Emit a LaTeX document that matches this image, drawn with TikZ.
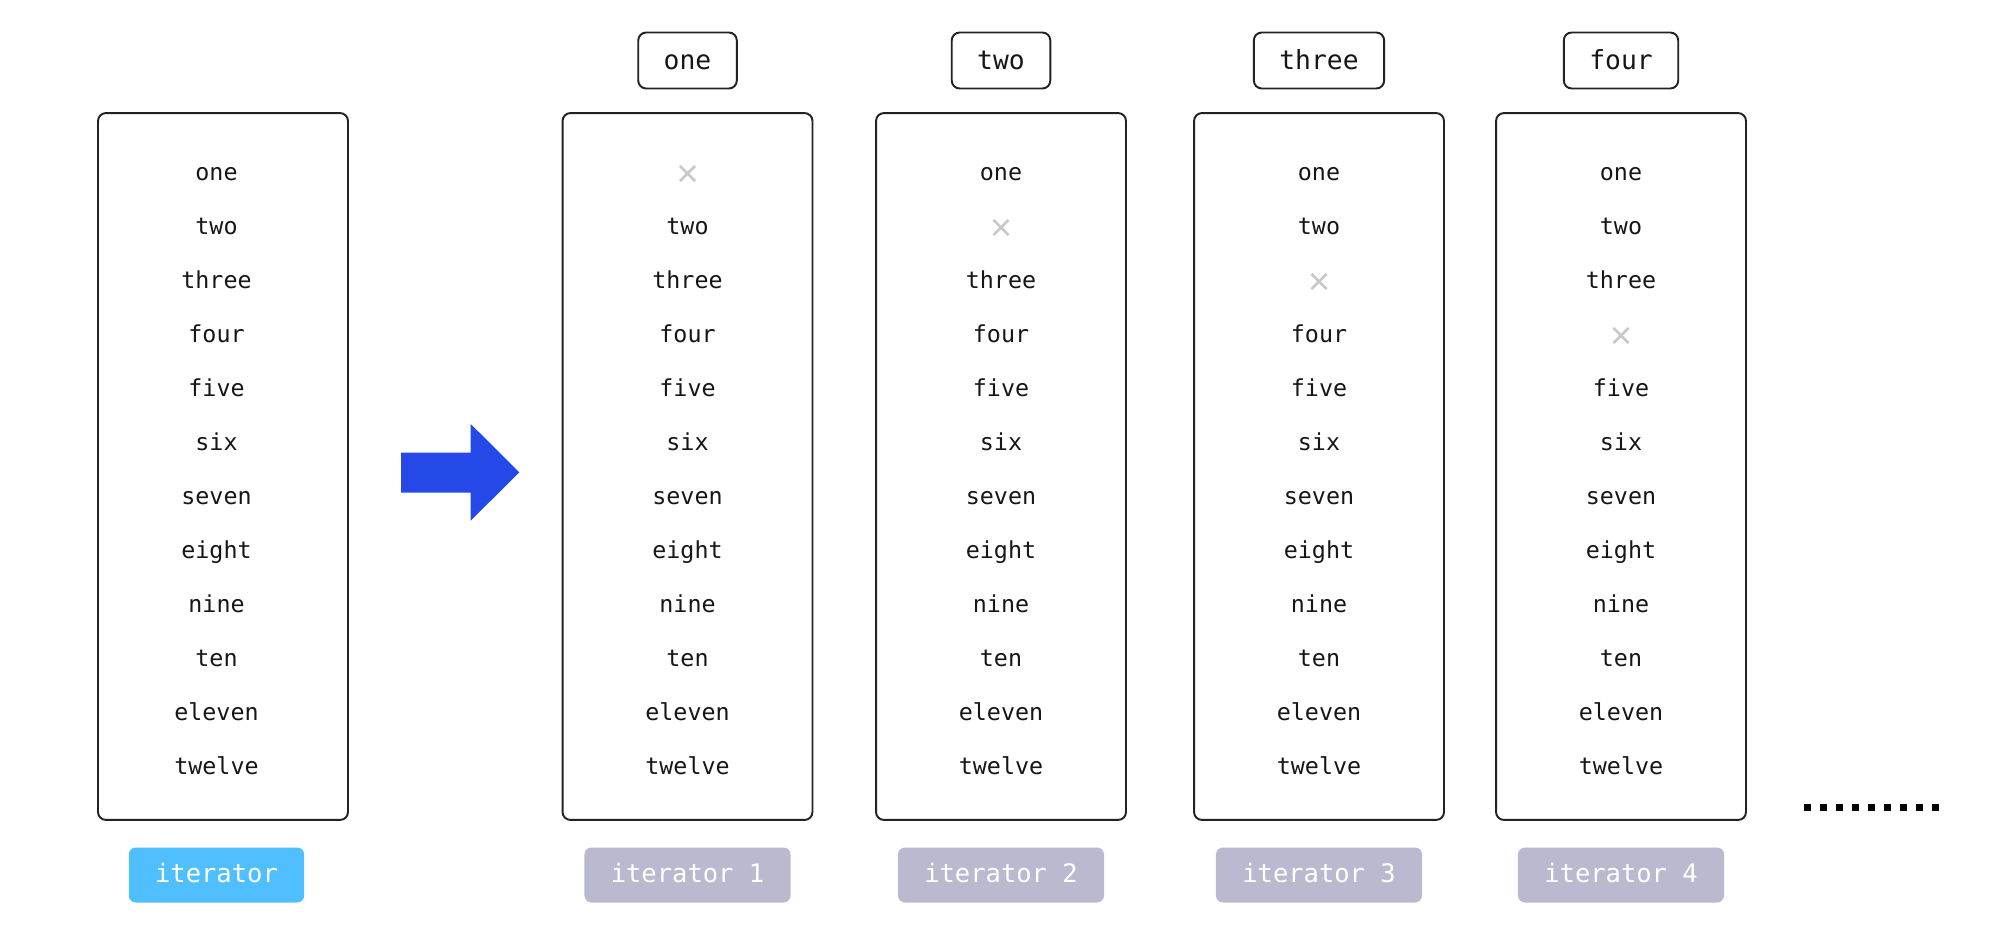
\documentclass[tikz,border=0pt]{standalone}
\usepackage{fontspec}
\setmonofont{DejaVu Sans Mono}
\usepackage{xcolor}
\usetikzlibrary{positioning,shapes.misc}
\definecolor{ink}      {HTML}{161616}
\definecolor{frame}    {HTML}{222222}
\definecolor{struck}   {HTML}{C9C9C9}
\definecolor{pushBlue} {HTML}{2449E8}
\definecolor{iterBlue} {HTML}{50BFFF}
\definecolor{iterGray} {HTML}{BBB9CF}

\begin{document}
\begin{tikzpicture}[
  x=0.02cm, y=-0.02cm,
  every node/.style={font=\ttfamily, text=ink},
  col/.style={draw=frame, line width=1.1pt, rounded corners=4.5pt,
              minimum width=5cm, minimum height=14.14cm, inner sep=0pt},
  itm/.style={anchor=base, inner sep=0pt, font=\fontsize{13.3}{16}\selectfont\ttfamily},
  gone/.style={cross out, draw=struck, line width=1.5pt, minimum size=0.25cm, inner sep=0pt},
  hd/.style={draw=frame, line width=1.1pt, rounded corners=4.5pt, minimum height=1.12cm,
             inner xsep=14.5pt, text height=10pt, text depth=0pt,
             font=\fontsize{15}{18}\selectfont\ttfamily},
  tag/.style={rounded corners=4pt, minimum height=1.1cm, inner xsep=15pt,
              text height=8.4pt, text depth=0pt, text=white,
              font=\fontsize{14.5}{17}\selectfont\ttfamily}
]
\useasboundingbox (0,0) rectangle (2000,950);
% the source list and its four copies
\foreach \cx/\tx/\k in {223/216.5/0, 687.5/687.5/1, 1001/1001/2, 1319/1319/3, 1621/1621/4} {
  \node[col] (col\k) at (\cx,466.5) {};
  \foreach \w [count=\i] in {one,two,three,four,five,six,seven,eight,nine,ten,eleven,twelve} {
    \ifnum\i=\k
      \node[gone] (c\k r\i) at (\tx,{180+54*(\i-1)-6.5}) {};
    \else
      \node[itm] (c\k r\i) at (\tx,{180+54*(\i-1)}) {\w};
    \fi
  }
}
% removed element on top of each copy
\node[hd] (hd1) at (687.5,60.5) {one};
\node[hd] (hd2) at (1001,60.5) {two};
\node[hd] (hd3) at (1319,60.5) {three};
\node[hd] (hd4) at (1621,60.5) {four};
% labels underneath
\node[tag, fill=iterBlue] (tag0) at (216.5,875) {iterator};
\node[tag, fill=iterGray] (tag1) at (687.5,875) {iterator 1};
\node[tag, fill=iterGray] (tag2) at (1001,875) {iterator 2};
\node[tag, fill=iterGray] (tag3) at (1319,875) {iterator 3};
\node[tag, fill=iterGray] (tag4) at (1621,875) {iterator 4};
% big arrow
\fill[pushBlue] (401,452.7) -- (470.7,452.7) -- (470.7,424) -- (519.3,472.3)
  -- (470.7,520.7) -- (470.7,492.7) -- (401,492.7) -- cycle;
% and so on
\coordinate (more0) at (1804,807.3);
\coordinate (more1) at (1941,807.3);
\draw[black, line width=0.134cm, dash pattern=on 0.14cm off 0.18cm] (more0) -- (more1);
\end{tikzpicture}
\end{document}
